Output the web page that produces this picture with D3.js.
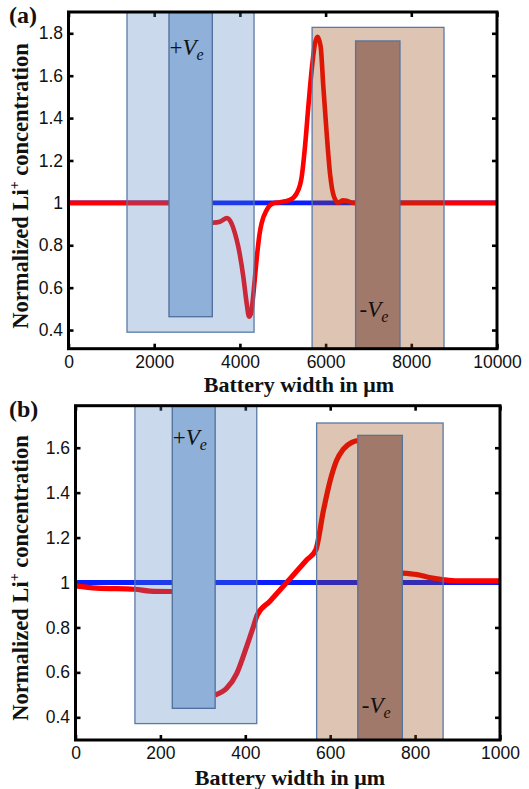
<!DOCTYPE html>
<html><head><meta charset="utf-8">
<script src="https://cdn.jsdelivr.net/npm/d3@7"></script>
<style>body{margin:0;background:#fff}</style>
</head><body>
<script>
// ---------- data ----------
const xTicksA = [0, 2000, 4000, 6000, 8000, 10000];
const yTicksA = [0.4, 0.6, 0.8, 1, 1.2, 1.4, 1.6, 1.8];
const xTicksB = [0, 200, 400, 600, 800, 1000];
const yTicksB = [0.4, 0.6, 0.8, 1, 1.2, 1.4, 1.6];

const blueA = [[0, 1], [10000, 1]];
const redA = [[0, 1.0], [2345, 1.0], [2346, null],
  [3356, 0.906], [3536, 0.911], [3700, 0.928], [3800, 0.905], [3880, 0.86], [3963, 0.793],
  [4080, 0.651], [4158, 0.526], [4212, 0.463], [4260, 0.478], [4300, 0.54], [4329, 0.6],
  [4406, 0.765], [4460, 0.855], [4508, 0.905], [4625, 0.966], [4780, 0.998], [4936, 1.003],
  [5169, 1.014], [5325, 1.045], [5442, 1.123], [5519, 1.265], [5597, 1.454], [5675, 1.627],
  [5753, 1.753], [5815, 1.784], [5885, 1.737], [5947, 1.548], [6025, 1.328], [6103, 1.139],
  [6196, 1.029], [6297, 1.0], [6400, 1.012], [6492, 1.01], [6648, 1.0], [10000, 1.0]];

const blueB = [[0, 1], [1000, 1]];
const redB = [[0, 0.985], [50, 0.975], [140, 0.97], [175, 0.962], [228, 0.96], [229, null],
  [329, 0.499], [356, 0.529], [380, 0.596], [403, 0.714], [419, 0.803], [428, 0.855],
  [458, 0.917], [505, 1.016], [545, 1.101], [566, 1.145], [584, 1.32], [600, 1.454],
  [615, 1.543], [631, 1.594], [651, 1.624], [665, 1.632], [666, null],
  [769, 1.042], [805, 1.035], [837, 1.021], [868, 1.012], [900, 1.007], [1000, 1.007]];

// boxes: [x0, x1, yBottom, yTop] in data units
const outerPosA = [1365, 4330, 0.39, 1.9];
const innerPosA = [2345, 3356, 0.463, 1.9];
const outerNegA = [5685, 8763, 0.312, 1.828];
const innerNegA = [6700, 7736, 0.312, 1.764];
const outerPosB = [140, 427, 0.372, 1.787];
const innerPosB = [228, 329, 0.44, 1.787];
const outerNegB = [568, 866, 0.299, 1.71];
const innerNegB = [665, 770, 0.299, 1.655];

const xTitle = "Battery width in μm";
const yTitleMain = "Normalized Li";
const yTitleSup = "+";
const yTitleRest = " concentration";

// ---------- layout ----------
const W = 529, H = 789;
const svg = d3.select("body").append("svg").attr("width", W).attr("height", H)
  .style("background", "#fff");

const serif = "'Liberation Serif','Times New Roman',serif";
const sans = "'Liberation Sans',Arial,sans-serif";

const panels = [
  { tag: "(a)", left: 68.5, right: 497, top: 12, bottom: 348.7, xd: [0, 10000], yd: [0.312, 1.9005],
    xt: xTicksA, yt: yTicksA, blue: blueA, red: redA, lw: 4.6,
    boxes: [outerPosA, innerPosA, outerNegA, innerNegA],
    tagY: 23, xTitleX: 299, xTitleY: 392, yTitleY: 186, posY: 55, negY: 317 },
  { tag: "(b)", left: 75.5, right: 500, top: 405.7, bottom: 740, xd: [0, 1000], yd: [0.299, 1.787],
    xt: xTicksB, yt: yTicksB, blue: blueB, red: redB, lw: 5.2,
    boxes: [outerPosB, innerPosB, outerNegB, innerNegB],
    tagY: 417, xTitleX: 290, xTitleY: 784.5, yTitleY: 578, posY: 445, negY: 713 }
];

const boxStyles = [
  { fill: "rgb(79,129,189)", op: 0.3, stroke: "#5a7aa6" },
  { fill: "#8fb0d8", op: 1, stroke: "#4f6f9c" },
  { fill: "rgb(150,70,20)", op: 0.32, stroke: "#5a7aa6" },
  { fill: "#a1796b", op: 1, stroke: "#56739c" }
];

panels.forEach((p, i) => {
  const x = d3.scaleLinear().domain(p.xd).range([p.left, p.right]);
  const y = d3.scaleLinear().domain(p.yd).range([p.bottom, p.top]);
  const g = svg.append("g");

  const clipId = "clip" + i;
  svg.append("clipPath").attr("id", clipId).append("rect")
    .attr("x", p.left).attr("y", p.top).attr("width", p.right - p.left).attr("height", p.bottom - p.top);

  const fmt = d => d === 1 ? "1" : (Number.isInteger(d) ? String(d) : d.toFixed(1));

  // axes (inward ticks)
  const axB = g.append("g").attr("transform", `translate(0,${p.bottom})`)
    .call(d3.axisBottom(x).tickValues(p.xt).tickSize(-5).tickPadding(7).tickFormat(fmt));
  const axL = g.append("g").attr("transform", `translate(${p.left},0)`)
    .call(d3.axisLeft(y).tickValues(p.yt).tickSize(-5).tickPadding(5.5).tickFormat(fmt));
  const axT = g.append("g").attr("transform", `translate(0,${p.top})`)
    .call(d3.axisTop(x).tickValues(p.xt).tickSize(-5).tickFormat(""));
  const axR = g.append("g").attr("transform", `translate(${p.right},0)`)
    .call(d3.axisRight(y).tickValues(p.yt).tickSize(-5).tickFormat(""));
  [axB, axL, axT, axR].forEach(a => {
    a.select(".domain").remove();
    a.selectAll(".tick line").attr("stroke", "#000").attr("stroke-width", 2.6);
    a.selectAll(".tick text").attr("font-family", sans).attr("font-size", 17.5).attr("fill", "#111");
  });

  // curves
  const line = d3.line().defined(d => d[1] != null).x(d => x(d[0])).y(d => y(d[1]))
    .curve(d3.curveMonotoneX);
  const cg = g.append("g").attr("clip-path", `url(#${clipId})`);
  cg.append("path").attr("d", line(p.blue)).attr("fill", "none").attr("stroke", "#0a1eff")
    .attr("stroke-width", p.lw);
  cg.append("path").attr("d", line(p.red)).attr("fill", "none").attr("stroke", "#ff0000")
    .attr("stroke-width", p.lw).attr("stroke-linejoin", "round");

  // electrode boxes
  const bg = g.append("g").attr("clip-path", `url(#${clipId})`);
  p.boxes.forEach((b, k) => {
    const s = boxStyles[k];
    bg.append("rect")
      .attr("x", x(b[0])).attr("width", x(b[1]) - x(b[0]))
      .attr("y", y(b[3])).attr("height", y(b[2]) - y(b[3]))
      .attr("fill", s.fill).attr("fill-opacity", s.op)
      .attr("stroke", s.stroke).attr("stroke-width", 1.3);
  });

  // frame
  g.append("rect").attr("x", p.left).attr("y", p.top)
    .attr("width", p.right - p.left).attr("height", p.bottom - p.top)
    .attr("fill", "none").attr("stroke", "#000").attr("stroke-width", 3);

  // V_e labels
  const pb = p.boxes[1], nb = p.boxes[3];
  const tp = g.append("text").attr("x", x(pb[0]) + 0.5).attr("y", p.posY)
    .attr("font-family", serif).attr("font-size", 23).attr("fill", "#111");
  tp.append("tspan").text("+");
  tp.append("tspan").attr("font-style", "italic").text("V");
  tp.append("tspan").attr("font-style", "italic").attr("font-size", 16).attr("dy", 5).text("e");

  const tn = g.append("text").attr("x", x(nb[0]) + 4).attr("y", p.negY)
    .attr("font-family", serif).attr("font-size", 23).attr("fill", "#111");
  tn.append("tspan").text("-");
  tn.append("tspan").attr("font-style", "italic").text("V");
  tn.append("tspan").attr("font-style", "italic").attr("font-size", 16).attr("dy", 5).text("e");

  // panel tag
  g.append("text").attr("x", 9).attr("y", p.tagY).attr("font-family", serif)
    .attr("font-weight", "bold").attr("font-size", 24).attr("fill", "#111").text(p.tag);

  // x title
  g.append("text").attr("x", p.xTitleX).attr("y", p.xTitleY)
    .attr("text-anchor", "middle").attr("font-family", serif).attr("font-weight", "bold")
    .attr("font-size", 22).attr("fill", "#111").text(xTitle);

  // y title
  const yt = g.append("text").attr("transform", `translate(28,${p.yTitleY}) rotate(-90)`)
    .attr("text-anchor", "middle").attr("font-family", serif).attr("font-weight", "bold")
    .attr("font-size", 22.5).attr("fill", "#111");
  yt.append("tspan").text(yTitleMain);
  yt.append("tspan").attr("font-size", 14).attr("dy", -9).text(yTitleSup);
  yt.append("tspan").attr("dy", 9).text(yTitleRest);
});
</script>
</body></html>
